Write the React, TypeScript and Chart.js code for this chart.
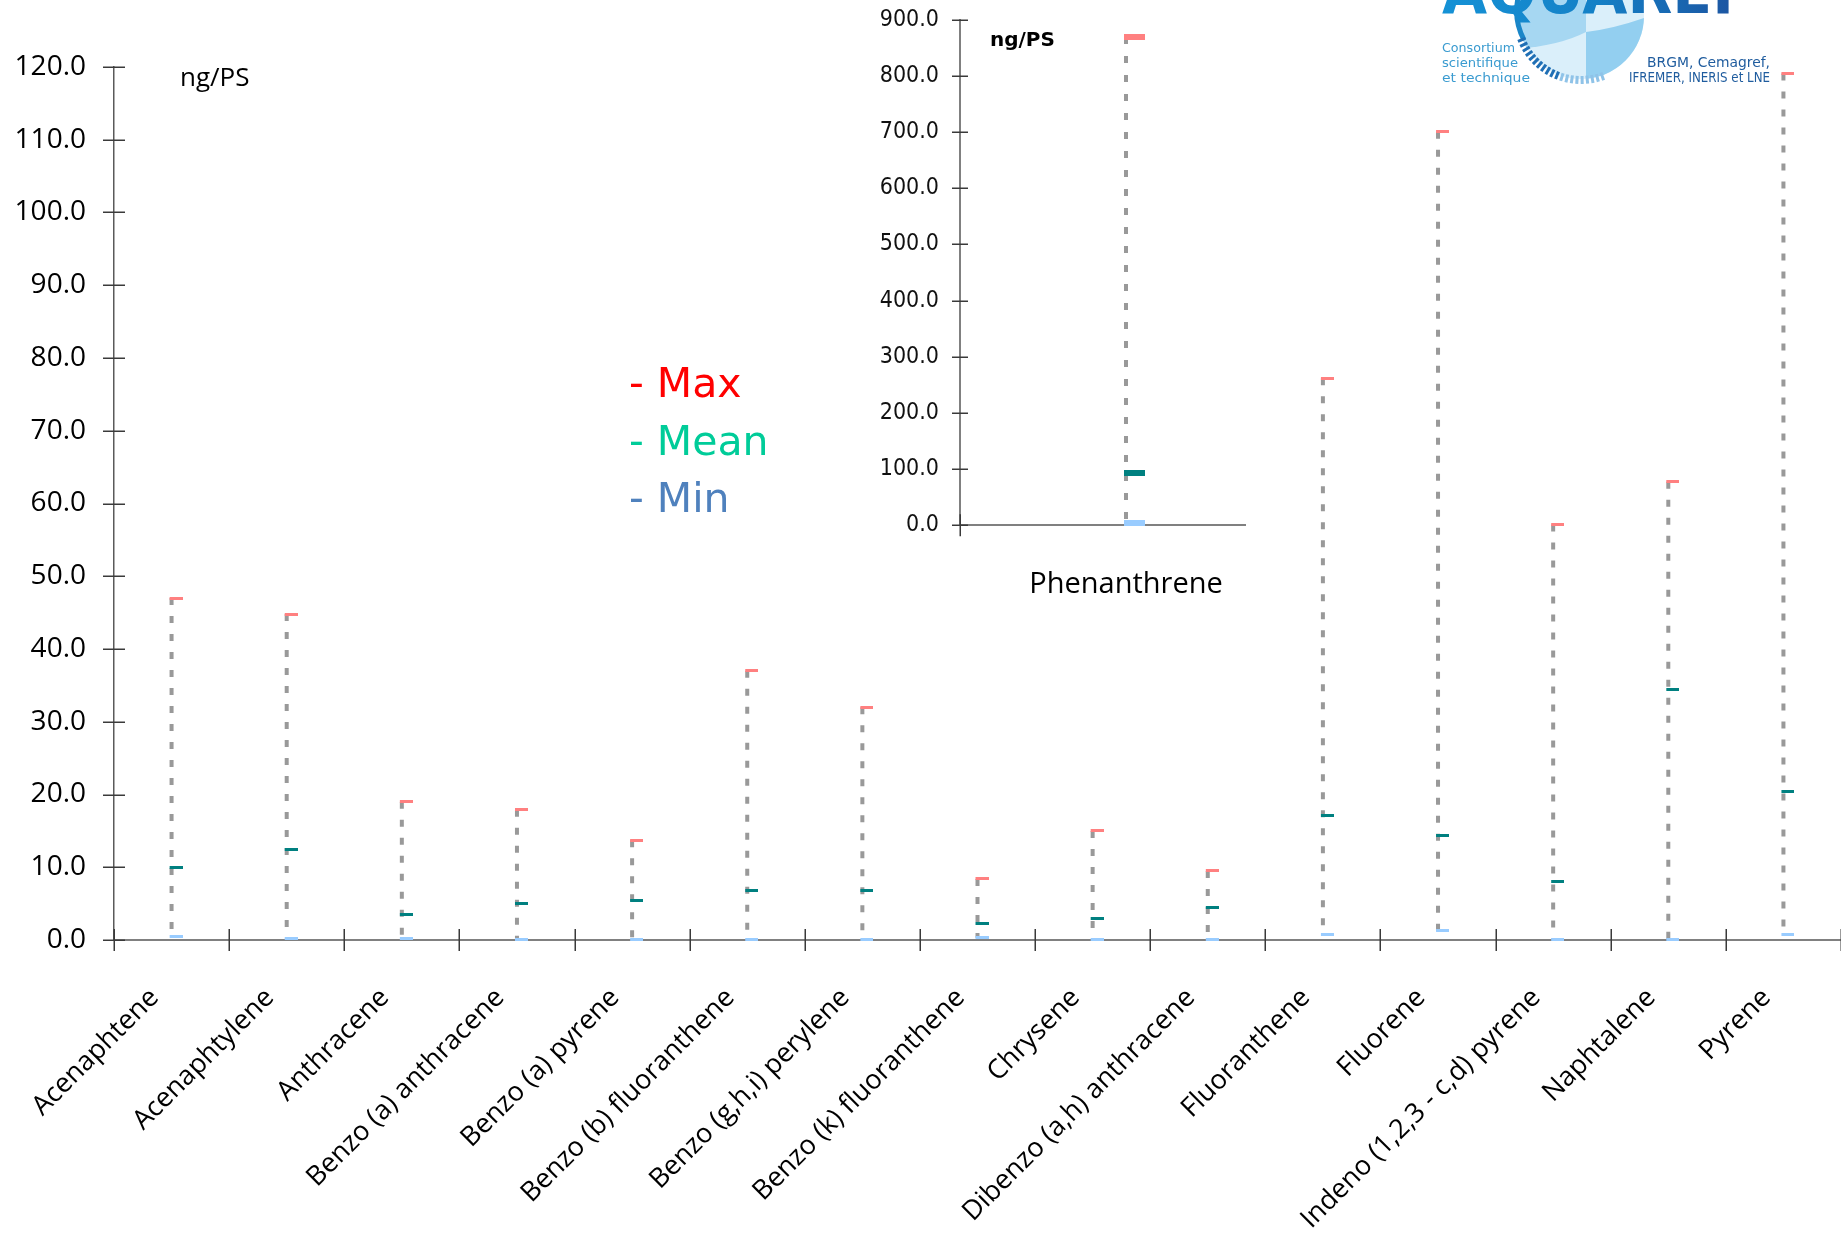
import React, { useEffect, useRef } from 'react';
import { Chart, registerables } from 'chart.js';

Chart.register(...registerables);

// ---------------- data ----------------
const categories = [
  'Acenaphtene',
  'Acenaphtylene',
  'Anthracene',
  'Benzo (a) anthracene',
  'Benzo (a) pyrene',
  'Benzo (b) fluoranthene',
  'Benzo (g,h,i) perylene',
  'Benzo (k) fluoranthene',
  'Chrysene',
  'Dibenzo (a,h) anthracene',
  'Fluoranthene',
  'Fluorene',
  'Indeno (1,2,3 - c,d) pyrene',
  'Naphtalene',
  'Pyrene',
];
const maxValues = [47.0, 44.8, 19.0, 17.9, 13.7, 37.0, 32.0, 8.4, 15.0, 9.5, 77.2, 111.1, 57.1, 63.0, 119.1];
const meanValues = [9.9, 12.4, 3.5, 5.0, 5.4, 6.8, 6.8, 2.3, 2.9, 4.5, 17.1, 14.3, 8.0, 34.4, 20.4];
const minValues = [0.45, 0.25, 0.2, 0.1, 0.05, 0.05, 0.05, 0.3, 0.1, 0.05, 0.8, 1.3, 0.1, 0.1, 0.7];

const insetCategories = ['Phenanthrene'];
const insetMax = [869];
const insetMean = [92.5];
const insetMin = [4];

const mainAxis = { min: 0, max: 120, step: 10 };
const insetAxis = { min: 0, max: 900, step: 100 };

const unitLabel = 'ng/PS';
const legendItems = [
  { text: '- Max', color: '#FF0000' },
  { text: '- Mean', color: '#00CC99' },
  { text: '- Min', color: '#4F81BD' },
];

// ---------------- styles ----------------
const COLOR_MAX = '#FF8080';
const COLOR_MEAN = '#008080';
const COLOR_MIN = '#99CCFF';
const COLOR_RANGE = '#999999';

function makeMarker(color: string, w: number, h: number, lead: number) {
  // marker image centred on the point: bar starts slightly left of the point and extends right
  const c = document.createElement('canvas');
  c.width = 2 * (w - lead);
  c.height = h;
  const g = c.getContext('2d')!;
  g.fillStyle = color;
  g.fillRect(c.width / 2 - lead, 0, w, h);
  return c;
}

function rangeData(labels: string[], hi: number[], lo: number[]) {
  const out: { x: string; y: number | null }[] = [];
  labels.forEach((l, i) => {
    out.push({ x: l, y: hi[i] });
    out.push({ x: l, y: lo[i] });
    out.push({ x: l, y: null });
  });
  return out;
}

function crossTicksPlugin(yLen: number, xLen: number, drawX: boolean) {
  return {
    id: 'crossTicks',
    afterDraw(chart: any) {
      const ctx = chart.ctx;
      const xs = chart.scales.x;
      const ys = chart.scales.y;
      ctx.save();
      ctx.strokeStyle = '#3a3a3a';
      ctx.lineWidth = 1.5;
      ys.ticks.forEach((t: any) => {
        const py = Math.round(ys.getPixelForValue(t.value)) + 0.25;
        ctx.beginPath();
        ctx.moveTo(xs.left - yLen, py);
        ctx.lineTo(xs.left + yLen, py);
        ctx.stroke();
      });
      if (drawX) {
        const n = xs.getLabels().length;
        for (let i = 0; i <= n; i++) {
          const px = Math.round(xs.getPixelForValue(i - 0.5)) + 0.25;
          ctx.beginPath();
          ctx.moveTo(px, ys.bottom - xLen);
          ctx.lineTo(px, ys.bottom + xLen);
          ctx.stroke();
        }
      } else {
        const px = Math.round(xs.getPixelForValue(-0.5)) + 0.25;
        ctx.beginPath();
        ctx.moveTo(px, ys.bottom - xLen);
        ctx.lineTo(px, ys.bottom + xLen);
        ctx.stroke();
      }
      ctx.restore();
    },
  };
}

type TextItem = { text: string; x: number; y: number; font: string; color: string };
function textPlugin(items: TextItem[]) {
  return {
    id: 'texts',
    afterDraw(chart: any) {
      const ctx = chart.ctx;
      ctx.save();
      ctx.textAlign = 'left';
      ctx.textBaseline = 'alphabetic';
      items.forEach((it) => {
        ctx.font = it.font;
        ctx.fillStyle = it.color;
        ctx.fillText(it.text, it.x, it.y);
      });
      ctx.restore();
    },
  };
}

function markerDataset(data: number[], img: HTMLCanvasElement) {
  return {
    type: 'line' as const,
    data,
    showLine: false,
    pointStyle: img,
    pointRadius: 8,
    pointHoverRadius: 8,
    clip: false as any,
    order: 0,
  };
}

export default function App() {
  const mainRef = useRef<HTMLCanvasElement>(null);
  const insetRef = useRef<HTMLCanvasElement>(null);

  useEffect(() => {
    if (!mainRef.current || !insetRef.current) return;

    const mMax = makeMarker(COLOR_MAX, 13, 3, 2);
    const mMean = makeMarker(COLOR_MEAN, 13, 3, 2);
    const mMin = makeMarker(COLOR_MIN, 13, 3, 2);

    const mainChart = new Chart(mainRef.current, {
      type: 'line',
      data: {
        labels: categories,
        datasets: [
          markerDataset(maxValues, mMax),
          markerDataset(meanValues, mMean),
          markerDataset(minValues, mMin),
          {
            type: 'line',
            data: rangeData(categories, maxValues, minValues) as any,
            borderColor: COLOR_RANGE,
            borderWidth: 4,
            borderDash: [7, 11],
            pointRadius: 0,
            spanGaps: false,
            order: 1,
          } as any,
        ],
      },
      options: {
        responsive: false,
        animation: false,
        devicePixelRatio: 1,
        events: [],
        layout: { autoPadding: false, padding: { top: 67, left: 0, right: 0, bottom: 0 } },
        plugins: { legend: { display: false }, tooltip: { enabled: false } },
        scales: {
          x: {
            type: 'category',
            offset: true,
            grid: { display: false, drawTicks: false },
            border: { display: true, color: '#808080', width: 2 },
            ticks: {
              autoSkip: false,
              maxRotation: 45,
              minRotation: 45,
              padding: 42,
              labelOffset: -17,
              color: '#000',
              font: { family: '"Open Sans", "DejaVu Sans", sans-serif', size: 27 },
            },
            afterFit(s: any) {
              s.height = 307;
              s.paddingLeft = 0;
              s.paddingRight = 0;
            },
          },
          y: {
            type: 'linear',
            min: mainAxis.min,
            max: mainAxis.max,
            grid: { display: false, drawTicks: false },
            border: { display: true, color: '#5a5a5a', width: 1.5 },
            ticks: {
              stepSize: mainAxis.step,
              padding: 28,
              color: '#000',
              font: { family: '"Open Sans", "DejaVu Sans", sans-serif', size: 28 },
              callback: (v: any) => Number(v).toFixed(1),
            },
            afterFit(s: any) {
              s.width = 114;
              s.paddingTop = 0;
              s.paddingBottom = 0;
            },
          },
        },
      },
      plugins: [
        crossTicksPlugin(11, 11, true),
        textPlugin([
          { text: unitLabel, x: 180, y: 86, font: '26px "Open Sans", sans-serif', color: '#000' },
          ...legendItems.map((it, i) => ({
            text: it.text,
            x: 629,
            y: 397 + i * 57.5,
            font: '41px "DejaVu Sans", sans-serif',
            color: it.color,
          })),
        ]),
      ],
    } as any);

    const iMax = makeMarker(COLOR_MAX, 21, 6, 2);
    const iMean = makeMarker(COLOR_MEAN, 21, 6, 2);
    const iMin = makeMarker(COLOR_MIN, 21, 6, 2);

    const insetChart = new Chart(insetRef.current, {
      type: 'line',
      data: {
        labels: insetCategories,
        datasets: [
          markerDataset(insetMax, iMax),
          markerDataset(insetMean, iMean),
          markerDataset(insetMin, iMin),
          {
            type: 'line',
            data: rangeData(insetCategories, insetMax, insetMin) as any,
            borderColor: COLOR_RANGE,
            borderWidth: 4,
            borderDash: [7, 12],
            pointRadius: 0,
            spanGaps: false,
            order: 1,
          } as any,
        ],
      },
      options: {
        responsive: false,
        animation: false,
        devicePixelRatio: 1,
        events: [],
        layout: { autoPadding: false, padding: { top: 19.6, left: 0, right: 8, bottom: 0 } },
        plugins: { legend: { display: false }, tooltip: { enabled: false } },
        scales: {
          x: {
            type: 'category',
            offset: true,
            grid: { display: false, drawTicks: false },
            border: { display: true, color: '#808080', width: 2 },
            ticks: {
              autoSkip: false,
              maxRotation: 0,
              minRotation: 0,
              padding: 42,
              color: '#000',
              font: { family: '"Open Sans", "DejaVu Sans", sans-serif', size: 29 },
            },
            afterFit(s: any) {
              s.height = 620 - 525.3;
              s.paddingLeft = 0;
              s.paddingRight = 0;
            },
          },
          y: {
            type: 'linear',
            min: insetAxis.min,
            max: insetAxis.max,
            grid: { display: false, drawTicks: false },
            border: { display: true, color: '#808080', width: 2 },
            ticks: {
              stepSize: insetAxis.step,
              padding: 21,
              color: '#111',
              font: { family: '"DejaVu Sans Condensed", "DejaVu Sans", sans-serif', size: 23 },
              callback: (v: any) => Number(v).toFixed(1),
            },
            afterFit(s: any) {
              s.width = 120;
              s.paddingTop = 0;
              s.paddingBottom = 0;
            },
          },
        },
      },
      plugins: [
        crossTicksPlugin(8, 11, false),
        textPlugin([
          { text: unitLabel, x: 150, y: 46, font: 'bold 20px "DejaVu Sans", sans-serif', color: '#000' },
        ]),
      ],
    } as any);

    return () => {
      mainChart.destroy();
      insetChart.destroy();
    };
  }, []);

  // decorative logo ticks
  const ringTicks: JSX.Element[] = [];
  for (let k = 0; k < 20; k++) {
    const a = ((158 - k * 4.6) * Math.PI) / 180;
    const r1 = 60;
    const r2 = 68;
    const t = k / 19;
    const col = t < 0.55 ? '#1F6FB5' : '#8FC3E8';
    ringTicks.push(
      <line
        key={k}
        x1={1581 + r1 * Math.cos(a)}
        y1={16 + r1 * Math.sin(a)}
        x2={1581 + r2 * Math.cos(a)}
        y2={16 + r2 * Math.sin(a)}
        stroke={col}
        strokeWidth={3}
      />
    );
  }

  return (
    <div style={{ position: 'fixed', left: 0, top: 0, width: 1841, height: 1247, overflow: 'hidden', background: '#fff' }}>
      <canvas
        ref={mainRef}
        width={1841}
        height={1247}
        style={{ position: 'absolute', left: 0, top: 0, width: 1841, height: 1247 }}
      />
      <div style={{ position: 'absolute', left: 840, top: 0, width: 406, height: 620, overflow: 'hidden' }}>
        <canvas ref={insetRef} width={460} height={620} style={{ position: 'absolute', left: 0, top: 0, width: 460, height: 620 }} />
      </div>
      <svg width={1841} height={110} style={{ position: 'absolute', left: 0, top: 0 }}>
        <defs>
          <linearGradient id="aqGrad" x1="0" x2="1" y1="0" y2="0">
            <stop offset="0" stopColor="#1592D6" />
            <stop offset="0.5" stopColor="#1480C6" />
            <stop offset="1" stopColor="#1D4F9D" />
          </linearGradient>
          <clipPath id="globeClip">
            <circle cx={1581} cy={16} r={63} />
          </clipPath>
        </defs>
        <circle cx={1581} cy={16} r={63} fill="#DAEFFA" />
        <g clipPath="url(#globeClip)">
          <path d="M1500 -60 L1586 -60 L1586 32 Q1555 48 1500 50 Z" fill="#A6D7F2" />
          <path d="M1586 32 Q1620 28 1660 12 L1660 100 L1586 100 Z" fill="#93CFF0" />
        </g>
        <path d="M1519 -6 A63 63 0 0 0 1524 40" stroke="#1A86C8" strokeWidth={5} fill="none" />
        {ringTicks}
        <text
          x={1442}
          y={13}
          fontFamily='"DejaVu Sans", sans-serif'
          fontWeight={700}
          fontSize={62}
          fill="url(#aqGrad)"
          textLength={310}
          lengthAdjust="spacingAndGlyphs"
        >
          AQUAREF
        </text>
        <g fontFamily='"DejaVu Sans", sans-serif' fontSize={13} fill="#3A9BD0">
          <text x={1442} y={52} textLength={73} lengthAdjust="spacingAndGlyphs">Consortium</text>
          <text x={1442} y={67} textLength={76} lengthAdjust="spacingAndGlyphs">scientifique</text>
          <text x={1442} y={82} textLength={88} lengthAdjust="spacingAndGlyphs">et technique</text>
        </g>
        <g fontFamily='"DejaVu Sans", sans-serif' fontSize={14} fontWeight={500} fill="#1F5C9E" textAnchor="end">
          <text x={1770} y={67} textLength={123} lengthAdjust="spacingAndGlyphs">BRGM, Cemagref,</text>
          <text x={1770} y={82} textLength={141} lengthAdjust="spacingAndGlyphs">IFREMER, INERIS et LNE</text>
        </g>
      </svg>
    </div>
  );
}
